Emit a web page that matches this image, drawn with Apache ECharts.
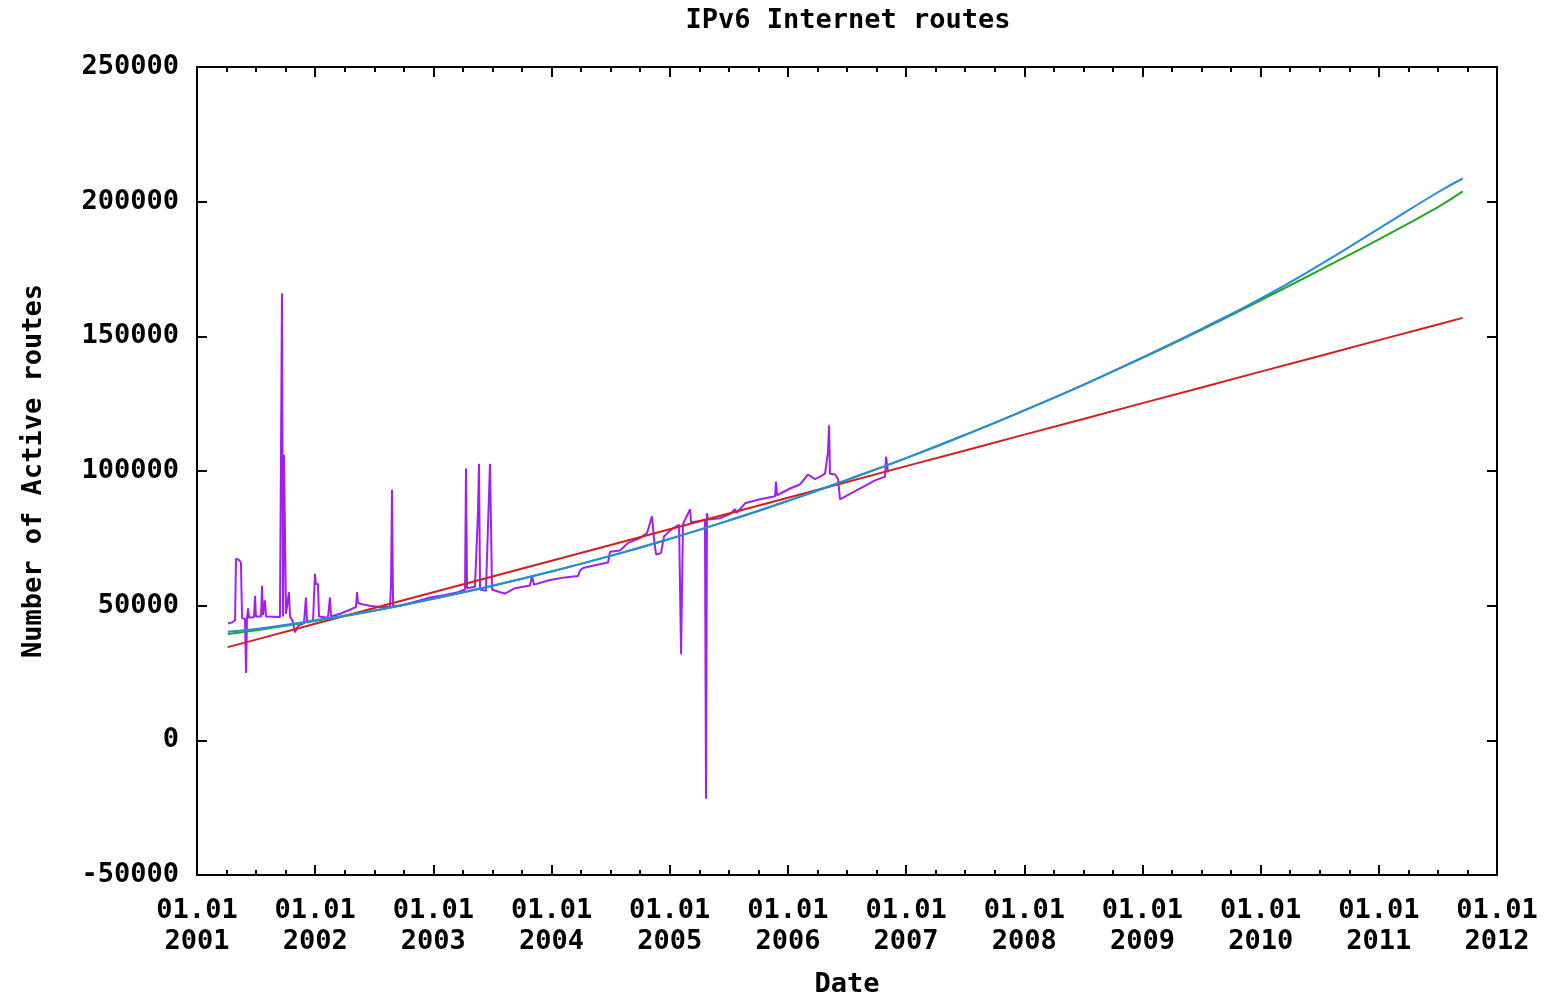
<!DOCTYPE html>
<html>
<head>
<meta charset="utf-8">
<title>IPv6 Internet routes</title>
<script src="https://cdn.jsdelivr.net/npm/echarts@6/dist/echarts.min.js"></script>
<style>
  html, body { margin: 0; padding: 0; background: #fff; }
  #chart { width: 1551px; height: 1003px; }
</style>
</head>
<body>
<div id="chart"></div>
<script>
// observed active routes: [year, routes]
const routes = [
  [2001.262, 43400], [2001.296, 43800], [2001.322, 44500], [2001.330, 67400], [2001.355, 67000],
  [2001.372, 66000], [2001.381, 45500], [2001.406, 45000], [2001.415, 25000], [2001.423, 45200],
  [2001.432, 49000], [2001.440, 45500], [2001.482, 45800], [2001.491, 53700], [2001.499, 46000],
  [2001.542, 46000], [2001.550, 57400], [2001.558, 46500], [2001.575, 52000], [2001.584, 46000],
  [2001.702, 45800], [2001.719, 166000], [2001.728, 46000], [2001.736, 106000], [2001.745, 106000],
  [2001.753, 47000], [2001.778, 55000], [2001.787, 46000], [2001.812, 44000], [2001.829, 40100],
  [2001.855, 42500], [2001.905, 43500], [2001.922, 53000], [2001.931, 44000], [2001.982, 44500],
  [2001.998, 61800], [2002.007, 58000], [2002.024, 58000], [2002.032, 46000], [2002.108, 45500],
  [2002.125, 53000], [2002.134, 46000], [2002.210, 47000], [2002.295, 48500], [2002.345, 49500],
  [2002.354, 55000], [2002.362, 51000], [2002.396, 50500], [2002.464, 50000], [2002.549, 49500],
  [2002.633, 49500], [2002.642, 58000], [2002.650, 93000], [2002.659, 50000], [2002.718, 50000],
  [2002.845, 51500], [2002.972, 53000], [2003.098, 54000], [2003.208, 55000], [2003.268, 56000],
  [2003.276, 100900], [2003.285, 56500], [2003.352, 57000], [2003.377, 84000], [2003.386, 102700],
  [2003.395, 56000], [2003.445, 55500], [2003.479, 102700], [2003.488, 79500], [2003.496, 56000],
  [2003.564, 55000], [2003.606, 54500], [2003.691, 56500], [2003.818, 57500], [2003.835, 61100],
  [2003.852, 57800], [2003.987, 59500], [2004.114, 60500], [2004.224, 61000], [2004.241, 63000],
  [2004.266, 64000], [2004.368, 65000], [2004.478, 66000], [2004.495, 70000], [2004.579, 70500],
  [2004.647, 73300], [2004.749, 75100], [2004.808, 77000], [2004.850, 83200], [2004.867, 75000],
  [2004.884, 69000], [2004.926, 69500], [2004.952, 75800], [2005.019, 78500], [2005.079, 80000],
  [2005.096, 32000], [2005.112, 80300], [2005.172, 85800], [2005.180, 81000], [2005.256, 81400],
  [2005.298, 82000], [2005.307, -21700], [2005.315, 84300], [2005.324, 82000], [2005.425, 82500],
  [2005.510, 84000], [2005.552, 85800], [2005.569, 84500], [2005.637, 88000], [2005.764, 89500],
  [2005.891, 90600], [2005.899, 96100], [2005.908, 91000], [2006.018, 93500], [2006.102, 95000],
  [2006.170, 98700], [2006.229, 97000], [2006.272, 97900], [2006.314, 99000], [2006.339, 107000],
  [2006.348, 117000], [2006.356, 99000], [2006.399, 98700], [2006.424, 97000], [2006.441, 89500],
  [2006.483, 90500], [2006.568, 92500], [2006.652, 94500], [2006.737, 96500], [2006.822, 97900],
  [2006.830, 105300], [2006.847, 99500]
];

// fit curves, sampled along the projection
const fitYears = [2001.26, 2001.5, 2002, 2002.5, 2003, 2003.5, 2004, 2004.5, 2005, 2005.5, 2006, 2006.5,
  2007, 2007.5, 2008, 2008.5, 2009, 2009.5, 2010, 2010.5, 2011, 2011.5, 2011.71];
const linearFit = [34600, 37400, 43300, 49100, 55000, 60800, 66700, 72500, 78400, 84200, 90100, 95900,
  101800, 107600, 113500, 119300, 125200, 131000, 136900, 142700, 148600, 154400, 156850];
const quadFit = [39500, 40900, 44300, 48100, 52600, 57400, 62700, 68500, 74800, 81600, 88900, 96700,
  104800, 113400, 122500, 132000, 142000, 152400, 163400, 174600, 186000, 198000, 203800];
const expFit = [40300, 41300, 44600, 48200, 52600, 57400, 62700, 68500, 74800, 81600, 88900, 96700,
  104800, 113400, 122500, 132000, 142200, 152800, 164000, 176500, 190000, 203500, 208600];

const yTicks = [-50000, 250000, 50000]; // min, max, step
const xYears = [2001, 2012];

const mono = 'DejaVu Sans Mono';
const txt = { fontFamily: mono, fontWeight: 'bold', fontSize: 27, color: '#000' };

const pair = (ys, vs) => ys.map((y, i) => [y, vs[i]]);

const chart = echarts.init(document.getElementById('chart'));

const xBase = {
  type: 'value',
  min: xYears[0],
  max: xYears[1],
  interval: 1,
  axisLine: { onZero: false, lineStyle: { color: '#000', width: 2 } },
  axisTick: { inside: true, length: 10, lineStyle: { color: '#000', width: 2 } },
  minorTick: { show: true, splitNumber: 4, length: 5, lineStyle: { color: '#000', width: 2 } },
  splitLine: { show: false }
};
const yBase = {
  type: 'value',
  min: yTicks[0],
  max: yTicks[1],
  interval: yTicks[2],
  axisLine: { show: true, onZero: false, lineStyle: { color: '#000', width: 2 } },
  axisTick: { inside: true, length: 10, lineStyle: { color: '#000', width: 2 } },
  splitLine: { show: false }
};

chart.setOption({
  animation: false,
  backgroundColor: '#fff',
  title: {
    text: 'IPv6 Internet routes',
    left: 843,
    top: 2,
    textAlign: 'center',
    textStyle: txt
  },
  grid: { left: 197, width: 1300, top: 67, height: 815 },
  xAxis: [
    Object.assign({}, xBase, {
      position: 'bottom',
      name: 'Date',
      nameLocation: 'middle',
      nameGap: 96,
      nameTextStyle: txt,
      axisLabel: Object.assign({}, txt, {
        margin: 20,
        lineHeight: 31,
        formatter: v => '01.01\n' + v
      })
    }),
    Object.assign({}, xBase, { position: 'top', axisLabel: { show: false } })
  ],
  yAxis: [
    Object.assign({}, yBase, {
      position: 'left',
      name: 'Number of Active routes',
      nameLocation: 'middle',
      nameRotate: 90,
      nameGap: 150,
      nameTextStyle: txt,
      axisLabel: Object.assign({}, txt, { margin: 18, formatter: v => String(v) })
    }),
    Object.assign({}, yBase, { position: 'right', axisLabel: { show: false } })
  ],
  series: [
    {
      name: 'routes',
      type: 'line',
      data: routes,
      showSymbol: false,
      lineStyle: { color: '#a020f0', width: 2 }
    },
    {
      name: 'linear',
      type: 'line',
      data: pair(fitYears, linearFit),
      showSymbol: false,
      lineStyle: { color: '#d22020', width: 2 }
    },
    {
      name: 'quadratic',
      type: 'line',
      data: pair(fitYears, quadFit),
      showSymbol: false,
      smooth: true,
      lineStyle: { color: '#22a822', width: 2 }
    },
    {
      name: 'exponential',
      type: 'line',
      data: pair(fitYears, expFit),
      showSymbol: false,
      smooth: true,
      lineStyle: { color: '#2a8ae0', width: 2 }
    }
  ]
});
</script>
</body>
</html>
